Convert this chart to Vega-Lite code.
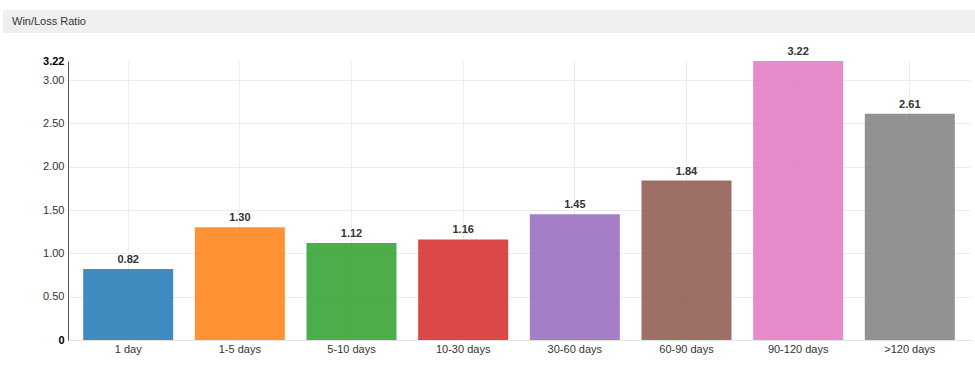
{
  "$schema": "https://vega.github.io/schema/vega-lite/v6.json",
  "padding": {"left": 3, "top": 10, "right": 0, "bottom": 5},
  "background": "white",
  "config": {"font": "Liberation Sans", "view": {"stroke": null}, "concat": {"spacing": 13}},
  "vconcat": [
    {
      "width": 907,
      "height": 23,
      "data": {"values": [{"label": "Win/Loss Ratio", "start": -0.07166, "end": 1, "textpos": -0.06174}]},
      "encoding": {
        "x": {"field": "start", "type": "quantitative", "scale": {"domain": [0, 1], "zero": false, "nice": false}, "axis": null}
      },
      "layer": [
        {
          "mark": {"type": "rect", "color": "#efefef", "clip": false},
          "encoding": {"x2": {"field": "end"}}
        },
        {
          "mark": {"type": "text", "align": "left", "baseline": "middle", "fontSize": 11, "color": "#333"},
          "encoding": {"x": {"field": "textpos", "type": "quantitative"}, "text": {"field": "label"}}
        }
      ]
    },
    {
      "width": 902,
      "height": 279,
      "data": {"values": [
        {"period": "1 day", "ratio": 0.82},
        {"period": "1-5 days", "ratio": 1.30},
        {"period": "5-10 days", "ratio": 1.12},
        {"period": "10-30 days", "ratio": 1.16},
        {"period": "30-60 days", "ratio": 1.45},
        {"period": "60-90 days", "ratio": 1.84},
        {"period": "90-120 days", "ratio": 3.22},
        {"period": ">120 days", "ratio": 2.61}
      ]},
      "encoding": {
        "x": {
          "field": "period", "type": "nominal", "sort": null,
          "scale": {"paddingInner": 0.194, "paddingOuter": 0.136},
          "axis": {"title": null, "labelAngle": 0, "ticks": false, "domainColor": "#e3e3e3", "labelFontSize": 11, "labelColor": "#333", "labelPadding": 3, "grid": true, "gridColor": "#ececec", "bandPosition": 0.5}
        },
        "y": {
          "field": "ratio", "type": "quantitative",
          "scale": {"domain": [0, 3.22], "nice": false, "zero": true},
          "axis": {
            "title": null,
            "values": [0, 0.5, 1, 1.5, 2, 2.5, 3, 3.22],
            "labelExpr": "datum.value == 0 ? '0' : format(datum.value, '.2f')",
            "labelFontWeight": {"condition": {"test": "datum.value == 0 || datum.value > 3.1", "value": "bold"}, "value": "normal"},
            "labelColor": {"condition": {"test": "datum.value == 0 || datum.value > 3.1", "value": "#000"}, "value": "#333"},
            "labelFontSize": 11,
            "ticks": false,
            "labelPadding": 4,
            "domainColor": "#555",
            "gridColor": "#ececec",
            "gridOpacity": {"condition": {"test": "datum.value > 3.1", "value": 0}, "value": 1},
            "minExtent": 65,
            "maxExtent": 65
          }
        }
      },
      "layer": [
        {
          "mark": {"type": "bar", "fillOpacity": 0.85},
          "encoding": {
            "color": {
              "field": "period", "type": "nominal", "sort": null, "legend": null,
              "scale": {
                "domain": ["1 day", "1-5 days", "5-10 days", "10-30 days", "30-60 days", "60-90 days", "90-120 days", ">120 days"],
                "range": ["#1f77b4", "#ff7f0e", "#2ca02c", "#d62728", "#9467bd", "#8c564b", "#e377c2", "#7f7f7f"]
              }
            }
          }
        },
        {
          "mark": {"type": "text", "baseline": "bottom", "dy": -4, "fontSize": 11, "fontWeight": "bold", "color": "#333"},
          "encoding": {"text": {"field": "ratio", "type": "quantitative", "format": ".2f"}}
        }
      ]
    }
  ]
}
